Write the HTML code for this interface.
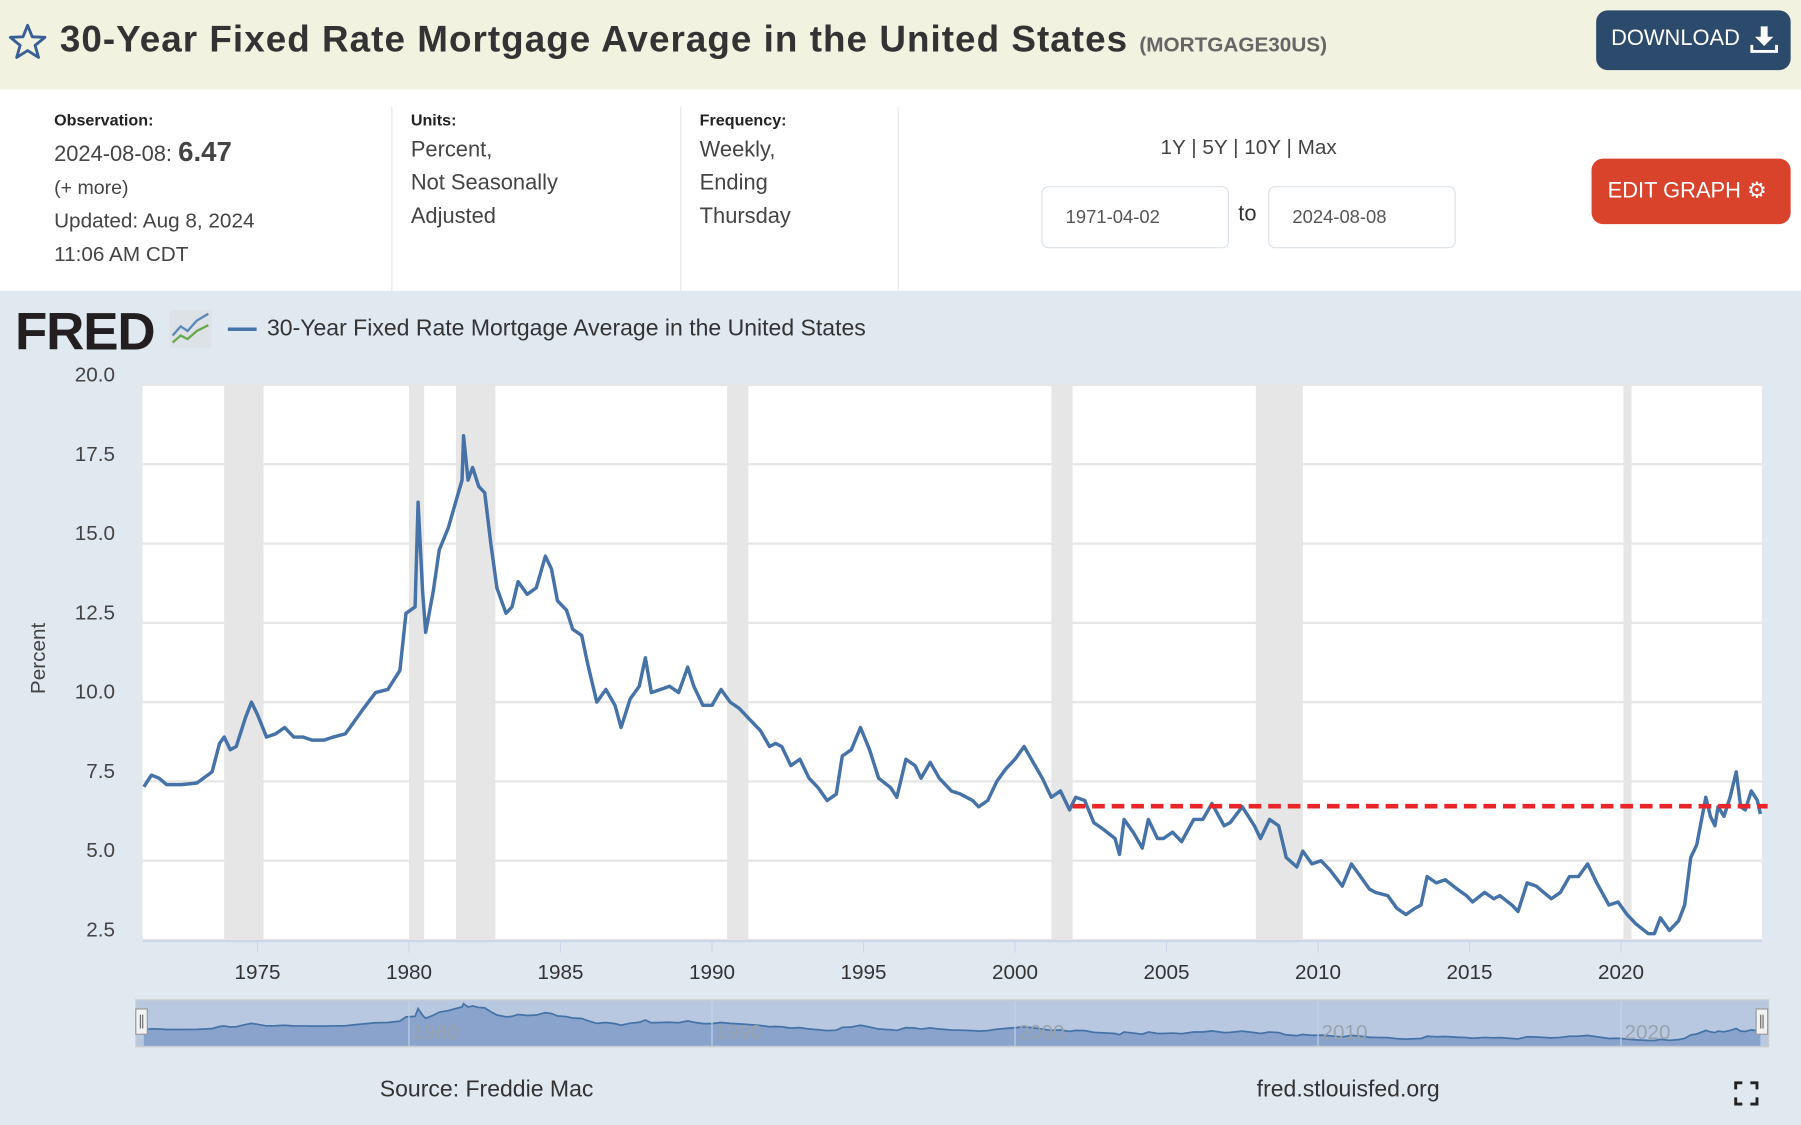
<!DOCTYPE html>
<html><head><meta charset="utf-8">
<style>
html,body{margin:0;padding:0;width:1801px;height:1125px;overflow:hidden;background:#e1e9f0;}
#wrap{position:absolute;left:0;top:0;width:1565px;height:979px;transform-origin:0 0;transform:scale(1.15080,1.14913);font-family:"Liberation Sans",sans-serif;color:#333;}
.abs{position:absolute;}
#hdr{left:0;top:0;width:1565px;height:78px;background:#f2f2e0;}
#info{left:0;top:78px;width:1565px;height:175px;background:#fff;}
.lbl{font-size:14px;font-weight:bold;color:#222;}
.val{font-size:19px;color:#444;line-height:29px;}
.div{width:1px;background:#e3e8ee;top:93px;height:160px;}
.inp{border:1px solid #dde2e8;border-radius:6px;background:#fff;font-size:16px;color:#555;height:54px;line-height:54px;box-sizing:border-box;padding-left:20px;width:163px;}
</style></head><body>
<div id="wrap">
<div id="hdr" class="abs">
  <svg class="abs" style="left:7px;top:20px" width="34" height="32" viewBox="0 0 34 32"><polygon points="17,2 21,12 32,12.5 23.5,19.5 26.5,30 17,24 7.5,30 10.5,19.5 2,12.5 13,12" fill="none" stroke="#3a5f96" stroke-width="2.5" stroke-linejoin="round"/></svg>
  <div class="abs" style="left:52px;top:16px;font-size:32px;letter-spacing:0.9px;font-weight:bold;color:#333;white-space:nowrap">30-Year Fixed Rate Mortgage Average in the United States <span style="font-size:18px;letter-spacing:0;color:#666">(MORTGAGE30US)</span></div>
  <div class="abs" style="left:1387px;top:9px;width:169px;height:52px;background:#2c4a6c;border-radius:10px;color:#fff;font-size:19px;line-height:50px;padding-left:13px;box-sizing:border-box">DOWNLOAD
    <svg style="position:absolute;left:134px;top:13px" width="24" height="24" viewBox="0 0 24 24"><path d="M9,1H15V10H20L12,18L4,10H9Z" fill="#fff"/><path d="M1,17V23H23V17" fill="none" stroke="#fff" stroke-width="3"/></svg></div>
</div>
<div id="info" class="abs"></div>
<div class="abs lbl" style="left:47px;top:96px">Observation:</div>
<div class="abs val" style="left:47px;top:118px">2024-08-08: <b style="font-size:24px">6.47</b></div>
<div class="abs val" style="left:47px;top:149px;font-size:17px">(+ more)</div>
<div class="abs val" style="left:47px;top:178px;font-size:18px">Updated: Aug 8, 2024</div>
<div class="abs val" style="left:47px;top:207px;font-size:18px">11:06 AM CDT</div>
<div class="abs div" style="left:340px"></div>
<div class="abs lbl" style="left:357px;top:96px">Units:</div>
<div class="abs val" style="left:357px;top:116px">Percent,<br>Not Seasonally<br>Adjusted</div>
<div class="abs div" style="left:591px"></div>
<div class="abs lbl" style="left:608px;top:96px">Frequency:</div>
<div class="abs val" style="left:608px;top:116px">Weekly,<br>Ending<br>Thursday</div>
<div class="abs div" style="left:780px"></div>
<div class="abs" style="left:985px;top:118px;width:200px;text-align:center;font-size:18px;color:#444">1Y | 5Y | 10Y | Max</div>
<div class="abs inp" style="left:905px;top:162px">1971-04-02</div>
<div class="abs" style="left:1076px;top:176px;font-size:19px;color:#333">to</div>
<div class="abs inp" style="left:1102px;top:162px">2024-08-08</div>
<div class="abs" style="left:1383px;top:138px;width:173px;height:57px;background:#d9432c;border-radius:10px;color:#fff;font-size:19px;line-height:57px;padding-left:14px;box-sizing:border-box">EDIT GRAPH &#9881;</div>

<div class="abs" style="left:13px;top:261px;font-size:46px;font-weight:900;color:#231f20;letter-spacing:-1px">FRED</div>
<svg class="abs" style="left:147px;top:270px" width="37" height="33"><rect width="37" height="33" rx="3" fill="#dde2e6"/><polyline points="3,22 10,14 16,18 24,9 34,3" fill="none" stroke="#5b87b8" stroke-width="2"/><polyline points="3,28 10,22 16,25 24,18 34,13" fill="none" stroke="#6aa84f" stroke-width="2"/></svg>
<div class="abs" style="left:198px;top:285px;width:25px;height:3px;background:#4572a7"></div>
<div class="abs" style="left:232px;top:275px;font-size:20px;color:#333">30-Year Fixed Rate Mortgage Average in the United States</div>
<div class="abs" style="left:18px;top:565px;font-size:18px;color:#444;transform:rotate(-90deg);transform-origin:center;width:30px;height:22px;line-height:22px;white-space:nowrap;text-indent:-13px">Percent</div>

<svg id="chart" class="abs" style="left:0;top:0" width="1565" height="979"></svg>
<div class="abs" style="left:330px;top:937px;font-size:20px;color:#333">Source: Freddie Mac</div>
<div class="abs" style="left:1092px;top:937px;font-size:20px;color:#333">fred.stlouisfed.org</div>
<svg class="abs" style="left:1507px;top:941px" width="21" height="21"><path d="M1,7V1H7M14,1H20V7M20,14V20H14M7,20H1V14" fill="none" stroke="#222" stroke-width="3"/></svg>
</div>
<script>
const years=[1971.25,1971.5,1971.75,1972.0,1972.5,1973.0,1973.5,1973.75,1973.9,1974.1,1974.3,1974.6,1974.8,1975.0,1975.3,1975.6,1975.9,1976.2,1976.5,1976.8,1977.2,1977.5,1977.9,1978.2,1978.5,1978.9,1979.3,1979.7,1979.9,1980.2,1980.3,1980.45,1980.55,1980.8,1981.0,1981.3,1981.6,1981.75,1981.8,1981.95,1982.1,1982.3,1982.5,1982.7,1982.9,1983.2,1983.4,1983.6,1983.9,1984.2,1984.5,1984.7,1984.9,1985.2,1985.4,1985.7,1985.9,1986.2,1986.5,1986.8,1987.0,1987.3,1987.6,1987.8,1988.0,1988.3,1988.6,1988.9,1989.2,1989.4,1989.7,1990.0,1990.3,1990.6,1990.9,1991.3,1991.6,1991.9,1992.1,1992.3,1992.6,1992.9,1993.2,1993.5,1993.8,1994.1,1994.3,1994.6,1994.9,1995.2,1995.5,1995.9,1996.1,1996.4,1996.7,1996.9,1997.2,1997.5,1997.9,1998.2,1998.6,1998.8,1999.1,1999.4,1999.7,2000.0,2000.3,2000.6,2000.9,2001.2,2001.5,2001.8,2002.0,2002.3,2002.6,2002.9,2003.3,2003.45,2003.6,2003.9,2004.2,2004.4,2004.7,2004.9,2005.2,2005.5,2005.9,2006.2,2006.5,2006.9,2007.1,2007.5,2007.9,2008.1,2008.4,2008.7,2008.95,2009.3,2009.5,2009.8,2010.1,2010.4,2010.8,2011.1,2011.4,2011.7,2011.9,2012.3,2012.6,2012.9,2013.2,2013.4,2013.6,2013.9,2014.2,2014.6,2014.9,2015.1,2015.5,2015.8,2016.0,2016.4,2016.6,2016.9,2017.2,2017.7,2018.0,2018.3,2018.6,2018.9,2019.2,2019.6,2019.9,2020.2,2020.5,2020.9,2021.1,2021.3,2021.6,2021.9,2022.1,2022.3,2022.5,2022.8,2022.95,2023.1,2023.2,2023.4,2023.6,2023.8,2023.95,2024.1,2024.3,2024.5,2024.6];
const rates=[7.33,7.7,7.6,7.4,7.4,7.45,7.8,8.7,8.9,8.5,8.6,9.5,10.0,9.6,8.9,9.0,9.2,8.9,8.9,8.8,8.8,8.9,9.0,9.4,9.8,10.3,10.4,11.0,12.8,13.0,16.3,13.5,12.2,13.5,14.8,15.5,16.5,17.0,18.4,17.0,17.4,16.8,16.6,15.0,13.6,12.8,13.0,13.8,13.4,13.6,14.6,14.2,13.2,12.9,12.3,12.1,11.2,10.0,10.4,9.9,9.2,10.1,10.5,11.4,10.3,10.4,10.5,10.3,11.1,10.5,9.9,9.9,10.4,10.0,9.8,9.4,9.1,8.6,8.7,8.6,8.0,8.2,7.6,7.3,6.9,7.1,8.3,8.5,9.2,8.5,7.6,7.3,7.0,8.2,8.0,7.6,8.1,7.6,7.2,7.1,6.9,6.7,6.9,7.5,7.9,8.2,8.6,8.1,7.6,7.0,7.2,6.6,7.0,6.9,6.2,6.0,5.7,5.2,6.3,5.9,5.4,6.3,5.7,5.7,5.9,5.6,6.3,6.3,6.8,6.1,6.2,6.7,6.1,5.7,6.3,6.1,5.1,4.8,5.3,4.9,5.0,4.7,4.2,4.9,4.5,4.1,4.0,3.9,3.5,3.3,3.5,3.6,4.5,4.3,4.4,4.1,3.9,3.7,4.0,3.8,3.9,3.6,3.4,4.3,4.2,3.8,4.0,4.5,4.5,4.9,4.3,3.6,3.7,3.3,3.0,2.7,2.7,3.2,2.8,3.1,3.6,5.1,5.5,7.0,6.4,6.1,6.7,6.4,7.0,7.8,6.7,6.6,7.2,6.9,6.47];
const yTicks=[2.5,5.0,7.5,10.0,12.5,15.0,17.5,20.0];
const xTicks=[1975,1980,1985,1990,1995,2000,2005,2010,2015,2020];
const navTicks=[1980,1990,2000,2010,2020];
const recStart=[1973.9,1980.0,1981.55,1990.5,2001.2,2007.95,2020.08];
const recEnd=[1975.2,1980.5,1982.85,1991.2,2001.9,2009.5,2020.35];
const refValue=[6.72];
const refStart=[2001.9];

const NS='http://www.w3.org/2000/svg';
const svg=document.getElementById('chart');
const X0=124,X1=1531,Y0=335,Y1=818;
const x=t=>882+(t-2000)*26.33;
const y=v=>Y1-(v-2.5)*(Y1-Y0)/17.5;
const ny=v=>911-v*2.04;
function mk(tag,attrs,parent){const e=document.createElementNS(NS,tag);for(const k in attrs)e.setAttribute(k,attrs[k]);(parent||svg).appendChild(e);return e;}
let e=mk('rect',{x:X0,y:Y0,width:X1-X0,height:Y1-Y0,fill:'#fff'});


recStart.forEach((s,i)=>{const r=mk('rect',{x:x(s),y:Y0,width:x(recEnd[i])-x(s),height:Y1-Y0,fill:'#e6e6e6'});

});
yTicks.forEach(v=>{const l=mk('line',{x1:X0,x2:X1,y1:y(v),y2:y(v),stroke:'#e6e6e6','stroke-width':2});


const t=mk('text',{x:100,y:y(v)-3,'text-anchor':'end','font-size':18,fill:'#444','font-family':'Liberation Sans, sans-serif'});t.textContent=v.toFixed(1);

});
mk('line',{x1:X0,x2:X1,y1:Y1+1,y2:Y1+1,stroke:'#ccd6eb','stroke-width':2});
xTicks.forEach(v=>{mk('line',{x1:x(v),x2:x(v),y1:Y1+1,y2:Y1+11,stroke:'#ccd6eb','stroke-width':1});
const t=mk('text',{x:x(v),y:852,'text-anchor':'middle','font-size':18,fill:'#333','font-family':'Liberation Sans, sans-serif'});t.textContent=v;

});
const pts=years.map((t,i)=>x(t).toFixed(1)+','+y(rates[i]).toFixed(1)).join(' ');
e=mk('polyline',{points:pts,fill:'none',stroke:'#4572a7','stroke-width':3,'stroke-linejoin':'round'});


e=mk('line',{x1:x(refStart[0]),x2:1536,y1:y(refValue[0]),y2:y(refValue[0]),stroke:'#e8262a','stroke-width':4,'stroke-dasharray':'11,6'});


e=mk('rect',{x:118,y:870,width:1419,height:41,fill:'#b9c8e1',stroke:'#cfcfcf'});


const npts=years.map((t,i)=>x(t).toFixed(1)+','+ny(rates[i]).toFixed(1));
e=mk('polygon',{points:x(years[0])+',910 '+npts.join(' ')+' '+x(years[years.length-1])+',910',fill:'#8aa3cc'});


e=mk('polyline',{points:npts.join(' '),fill:'none',stroke:'#4572a7','stroke-width':1.5});


navTicks.forEach(v=>{mk('line',{x1:x(v),x2:x(v),y1:871,y2:910,stroke:'#c6d2e6','stroke-width':1});
const t=mk('text',{x:x(v)+3,y:904,'font-size':18,fill:'#9aa3ad','font-family':'Liberation Sans, sans-serif'});t.textContent=v;

});
[118,1526].forEach(hx=>{const h=mk('rect',{x:hx,y:878,width:10,height:22,fill:'#f2f2f2',stroke:'#999'});


mk('line',{x1:hx+4,x2:hx+4,y1:883,y2:895,stroke:'#666'});mk('line',{x1:hx+6,x2:hx+6,y1:883,y2:895,stroke:'#666'});});
</script>
</body></html>
